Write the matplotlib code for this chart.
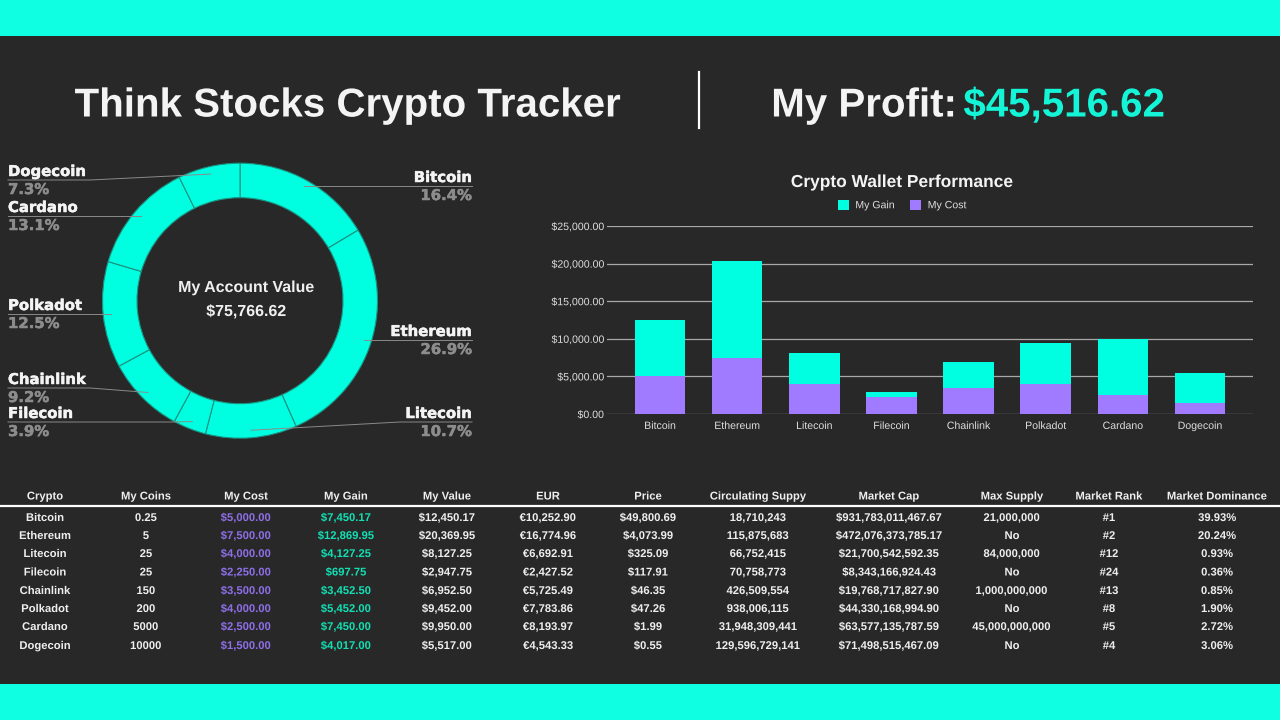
import numpy as np
import matplotlib
matplotlib.use("Agg")
import matplotlib.pyplot as plt
import matplotlib.patheffects as pe
from matplotlib.patches import Rectangle
from matplotlib.ticker import FuncFormatter

# ---- data ----
cryptos = ["Bitcoin", "Ethereum", "Litecoin", "Filecoin", "Chainlink", "Polkadot", "Cardano", "Dogecoin"]
my_cost = [5000.00, 7500.00, 4000.00, 2250.00, 3500.00, 4000.00, 2500.00, 1500.00]
my_gain = [7450.17, 12869.95, 4127.25, 697.75, 3452.50, 5452.00, 7450.00, 4017.00]
my_value = [12450.17, 20369.95, 8127.25, 2947.75, 6952.50, 9452.00, 9950.00, 5517.00]
pie_pct = ["16.4%", "26.9%", "10.7%", "3.9%", "9.2%", "12.5%", "13.1%", "7.3%"]
y_ticks = [0, 5000, 10000, 15000, 20000, 25000]

headers = ["Crypto", "My Coins", "My Cost", "My Gain", "My Value", "EUR", "Price", "Circulating Suppy",
           "Market Cap", "Max Supply", "Market Rank", "Market Dominance"]
my_coins = ["0.25", "5", "25", "25", "150", "200", "5000", "10000"]
eur = ["€10,252.90", "€16,774.96", "€6,692.91", "€2,427.52", "€5,725.49", "€7,783.86", "€8,193.97", "€4,543.33"]
price = ["$49,800.69", "$4,073.99", "$325.09", "$117.91", "$46.35", "$47.26", "$1.99", "$0.55"]
circ = ["18,710,243", "115,875,683", "66,752,415", "70,758,773", "426,509,554", "938,006,115",
        "31,948,309,441", "129,596,729,141"]
mcap = ["$931,783,011,467.67", "$472,076,373,785.17", "$21,700,542,592.35", "$8,343,166,924.43",
        "$19,768,717,827.90", "$44,330,168,994.90", "$63,577,135,787.59", "$71,498,515,467.09"]
max_supply = ["21,000,000", "No", "84,000,000", "No", "1,000,000,000", "No", "45,000,000,000", "No"]
rank = ["#1", "#2", "#12", "#24", "#13", "#8", "#5", "#4"]
dominance = ["39.93%", "20.24%", "0.93%", "0.36%", "0.85%", "1.90%", "2.72%", "3.06%"]

# ---- style ----
BG = "#282828"
CYAN = "#00ffe1"
BAND = "#0fffe2"
PURPLE = "#a07bff"
W, H = 1280, 720
SANS = "Liberation Sans"
plt.rcParams["font.family"] = [SANS, "DejaVu Sans"]
plt.rcParams["path.effects"] = [pe.Normal()]   # exact sub-pixel text placement

fig = plt.figure(figsize=(W / 100, H / 100), dpi=100, facecolor=BG)


def box(x0, y0, x1, y1):
    return [x0 / W, 1 - y1 / H, (x1 - x0) / W, (y1 - y0) / H]


# overlay in pixel coordinates for the page furniture
ov = fig.add_axes([0, 0, 1, 1], zorder=5)
ov.set_xlim(0, W)
ov.set_ylim(H, 0)
ov.axis("off")
ov.add_patch(Rectangle((0, 0), W, 36, color=BAND, lw=0))
ov.add_patch(Rectangle((0, 684), W, 36, color=BAND, lw=0))

ov.text(347, 116.5, "Think Stocks Crypto Tracker", ha="center", va="baseline", color="#f4f4f4",
        fontsize=29, fontweight="bold")
ov.plot([698.5, 698.5], [72, 128], color="white", lw=1.6)
ov.text(864, 116.5, "My Profit:", ha="center", va="baseline", color="#f4f4f4", fontsize=29, fontweight="bold")
ov.text(1064, 116.5, "$45,516.62", ha="center", va="baseline", color="#14f5d8", fontsize=29, fontweight="bold")

# ---- donut ----
cx, cy, R = 240, 300.7, 137.5
pie_ax = fig.add_axes(box(cx - R, cy - R, cx + R, cy + R))
pie_ax.pie(my_value, startangle=90, counterclock=False, colors=[CYAN] * len(my_value), radius=1,
           wedgeprops=dict(width=34.5 / R, edgecolor="#1c9280", linewidth=0.8))
pie_ax.set_xlim(-1, 1)
pie_ax.set_ylim(-1, 1)

ov.text(246.5, 292, "My Account Value", ha="center", va="baseline", color="#f0f0f0", fontsize=11.5, fontweight="bold")
ov.text(246.5, 316, "$75,766.62", ha="center", va="baseline", color="#f0f0f0", fontsize=11.5, fontweight="bold")

vals = np.array(my_value)
mids = (np.cumsum(vals) - vals / 2) / vals.sum() * 2 * np.pi
anchor_r = 130
# label layout: (side, name baseline y, elbow x)
label_layout = {
    "Bitcoin": ("r", 186, 400),
    "Ethereum": ("r", 340, 400),
    "Litecoin": ("r", 422, 400),
    "Filecoin": ("l", 422, 172),
    "Chainlink": ("l", 388, 90),
    "Polkadot": ("l", 314, 90),
    "Cardano": ("l", 216, 90),
    "Dogecoin": ("l", 180, 90),
}
heavy = [pe.withStroke(linewidth=0.35, foreground="#f4f4f4")]
heavy_g = [pe.withStroke(linewidth=0.35, foreground="#8c8c8c")]
for name, pct, ang in zip(cryptos, pie_pct, mids):
    side, ly, ex = label_layout[name]
    ax_, ay_ = cx + anchor_r * np.sin(ang), cy - anchor_r * np.cos(ang)
    tx = 472 if side == "r" else 8
    ha = "right" if side == "r" else "left"
    if name in ("Bitcoin", "Ethereum", "Cardano", "Polkadot"):
        ov.plot([tx, ax_], [ly, ly if abs(ay_ - ly) < 12 else ay_], color="#8a8a8a", lw=0.7, zorder=4)
    else:
        ov.plot([tx, ex, ax_], [ly, ly, ay_], color="#8a8a8a", lw=0.7, zorder=4)
    ov.text(tx, ly - 4, name, ha=ha, va="baseline", color="#f4f4f4", fontsize=10.7, fontweight="bold",
            family="DejaVu Sans", path_effects=heavy)
    ov.text(tx, ly + 14, pct, ha=ha, va="baseline", color="#8c8c8c", fontsize=10.7, fontweight="bold",
            family="DejaVu Sans", path_effects=heavy_g)

# ---- stacked bars ----
bx = fig.add_axes(box(607, 226, 1253, 414), facecolor="none")
x = np.arange(len(cryptos))
bar_w = 0.655
bx.bar(x, my_cost, width=bar_w, color=PURPLE, zorder=3, label="My Cost")
bx.bar(x, my_gain, width=bar_w, bottom=my_cost, color=CYAN, zorder=3, label="My Gain")
bx.set_xlim(-0.687, 7.687)
bx.set_ylim(0, 25000)
bx.set_yticks(y_ticks)
bx.yaxis.set_major_formatter(FuncFormatter(lambda v, _: f"${v:,.2f}"))
bx.set_xticks(x, cryptos)
bx.tick_params(axis="both", length=0, labelcolor="#dedede", labelsize=7.6)
bx.tick_params(axis="y", pad=2.5)
bx.tick_params(axis="x", pad=5)
bx.grid(axis="y", color="#a8a8a8", lw=0.9, zorder=0)
bx.set_axisbelow(True)
for s in bx.spines.values():
    s.set_visible(False)
handles, labels = bx.get_legend_handles_labels()
leg = fig.legend(handles[::-1], labels[::-1], ncol=2, frameon=False, loc="center",
                 bbox_to_anchor=(902 / W, 1 - 205 / H), fontsize=7.6, labelcolor="#dedede",
                 handlelength=1.05, handleheight=1.05, handletextpad=0.6, columnspacing=1.5)
ov.text(902, 187, "Crypto Wallet Performance", ha="center", va="baseline", color="#f4f4f4",
        fontsize=12.5, fontweight="bold")

# ---- table ----
money = lambda v: f"${v:,.2f}"
columns = [cryptos, my_coins, [money(v) for v in my_cost], [money(v) for v in my_gain],
           [money(v) for v in my_value], eur, price, circ, mcap, max_supply, rank, dominance]
col_x = [45, 146, 246, 346, 447, 548, 648, 758, 889, 1012, 1109, 1217]
row_y = [517, 535, 553, 571.5, 590, 608, 626, 645]
col_color = {2: "#8e6fe8", 3: "#12e0b4"}
for j, (hdr, cx_) in enumerate(zip(headers, col_x)):
    ov.text(cx_, 499.5, hdr, ha="center", va="baseline", color="#eeeeee", fontsize=8.1, fontweight="bold")
    for yy, cell in zip(row_y, columns[j]):
        ov.text(cx_, yy + 4, cell, ha="center", va="baseline", color=col_color.get(j, "#eeeeee"),
                fontsize=8.1, fontweight="bold")
ov.plot([0, W], [506, 506], color="white", lw=1.6)

fig.savefig("out.png", dpi=100, facecolor=BG)
